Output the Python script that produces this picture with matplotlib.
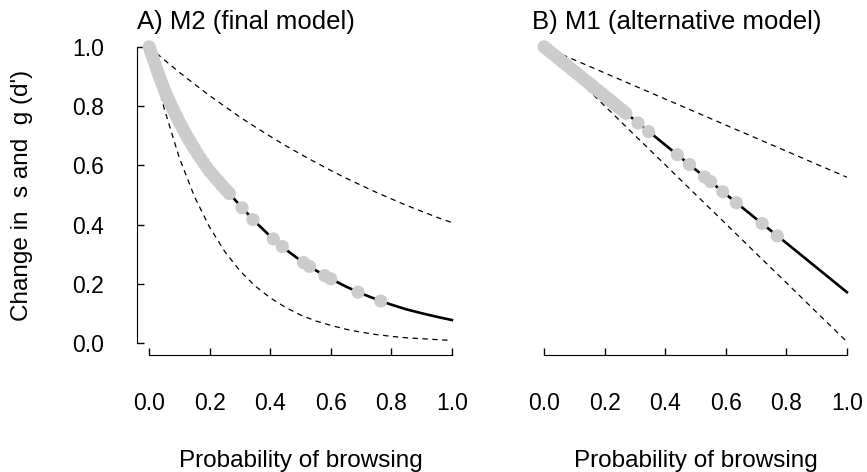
import numpy as np
import matplotlib.pyplot as plt

plt.rcParams['font.family'] = ['Liberation Sans', 'DejaVu Sans']

# M2: fitted curve and its dashed interval, on a 0.05 grid of browsing probability
grid_a = [0.00, 0.05, 0.10, 0.15, 0.20, 0.25, 0.30, 0.35, 0.40, 0.45, 0.50,
          0.55, 0.60, 0.65, 0.70, 0.75, 0.80, 0.85, 0.90, 0.95, 1.00]
fit_a = [1.000, 0.855, 0.745, 0.655, 0.580, 0.522, 0.465, 0.410, 0.361, 0.317, 0.279,
         0.246, 0.217, 0.191, 0.168, 0.148, 0.130, 0.114, 0.101, 0.089, 0.078]
upper_a = [1.000, 0.956, 0.914, 0.874, 0.835, 0.799, 0.763, 0.730, 0.698, 0.667, 0.638,
           0.610, 0.583, 0.557, 0.533, 0.509, 0.487, 0.465, 0.445, 0.425, 0.407]
lower_a = [1.000, 0.791, 0.625, 0.494, 0.391, 0.309, 0.244, 0.193, 0.153, 0.121, 0.095,
           0.075, 0.060, 0.047, 0.037, 0.029, 0.023, 0.018, 0.015, 0.012, 0.009]

# M1: straight-line fit and interval
grid_b = [0.0, 0.1, 0.2, 0.3, 0.4, 0.5, 0.6, 0.7, 0.8, 0.9, 1.0]
fit_b = [1.000, 0.917, 0.834, 0.752, 0.669, 0.586, 0.503, 0.420, 0.338, 0.255, 0.172]
upper_b = [1.000, 0.956, 0.912, 0.868, 0.824, 0.780, 0.736, 0.692, 0.648, 0.604, 0.560]
lower_b = [1.000, 0.900, 0.801, 0.701, 0.602, 0.502, 0.403, 0.303, 0.204, 0.104, 0.005]

# sites with low browsing (dense run of points)
band_x_a = [0.000, 0.005, 0.010, 0.015, 0.020, 0.025, 0.030, 0.035, 0.040, 0.045, 0.050,
            0.055, 0.060, 0.065, 0.070, 0.075, 0.080, 0.085, 0.090, 0.095, 0.100,
            0.105, 0.110, 0.115, 0.120, 0.125, 0.130, 0.135, 0.140, 0.145, 0.150,
            0.16, 0.17, 0.18, 0.19, 0.20, 0.21, 0.22, 0.23, 0.24, 0.25, 0.26, 0.265]
band_a = [1.000, 0.985, 0.970, 0.955, 0.940, 0.925, 0.911, 0.897, 0.883, 0.869, 0.855,
          0.843, 0.832, 0.820, 0.809, 0.798, 0.787, 0.776, 0.766, 0.755, 0.745,
          0.736, 0.726, 0.717, 0.707, 0.698, 0.689, 0.681, 0.672, 0.664, 0.655,
          0.639, 0.624, 0.609, 0.594, 0.580, 0.568, 0.556, 0.545, 0.533, 0.522, 0.511, 0.505]
band_x_b = [0.00, 0.01, 0.02, 0.03, 0.04, 0.05, 0.06, 0.07, 0.08, 0.09, 0.10, 0.11, 0.12, 0.13,
            0.14, 0.15, 0.16, 0.17, 0.18, 0.19, 0.20, 0.21, 0.22, 0.23, 0.24, 0.25, 0.26, 0.27]
band_b = [1.000, 0.992, 0.983, 0.975, 0.967, 0.959, 0.950, 0.942, 0.934, 0.925, 0.917, 0.909,
          0.901, 0.892, 0.884, 0.876, 0.868, 0.859, 0.851, 0.843, 0.834, 0.826, 0.818, 0.810,
          0.801, 0.793, 0.785, 0.776]

# remaining sites
obs_x_a = [0.307, 0.343, 0.41, 0.44, 0.51, 0.53, 0.58, 0.60, 0.69, 0.765]
obs_a = [0.457, 0.417, 0.352, 0.326, 0.272, 0.259, 0.228, 0.217, 0.172, 0.142]
obs_x_b = [0.31, 0.345, 0.44, 0.48, 0.53, 0.55, 0.59, 0.635, 0.72, 0.77]
obs_b = [0.743, 0.714, 0.636, 0.603, 0.561, 0.545, 0.511, 0.474, 0.404, 0.362]

ticks = [0.0, 0.2, 0.4, 0.6, 0.8, 1.0]
tick_labels = ['0.0', '0.2', '0.4', '0.6', '0.8', '1.0']

fig = plt.figure(figsize=(8.67, 4.72), dpi=100)
ax_a = fig.add_axes([137 / 867, 1 - 355 / 472, 327 / 867, 320 / 472])
ax_b = fig.add_axes([532 / 867, 1 - 355 / 472, 327 / 867, 320 / 472])

panels = [
    (ax_a, 'A) M2 (final model)', grid_a, fit_a, upper_a, lower_a,
     band_x_a, band_a, obs_x_a, obs_a),
    (ax_b, 'B) M1 (alternative model)', grid_b, fit_b, upper_b, lower_b,
     band_x_b, band_b, obs_x_b, obs_b),
]

for ax, title, gx, fit, up, lo, bx, by, ox, oy in panels:
    ax.plot(gx, fit, color='black', lw=1.9, zorder=2)
    for ci in (up, lo):
        ax.plot(gx, ci, color='black', lw=0.9, dashes=(4.3, 3.6), zorder=2)
    ax.scatter(bx, by, s=90, c='#cccccc', edgecolors='none', zorder=3)
    ax.scatter(ox, oy, s=90, c='#cccccc', edgecolors='none', zorder=3)

    ax.set_xlim(-0.04, 1.04)
    ax.set_ylim(-0.04, 1.04)
    for side in ('top', 'right'):
        ax.spines[side].set_visible(False)
    ax.spines['bottom'].set_bounds(0, 1)
    ax.spines['left'].set_bounds(0, 1)
    ax.set_xticks(ticks, tick_labels)
    ax.tick_params(axis='x', direction='in', length=5, width=1, pad=27, labelsize=16.5)
    ax.set_xlabel('Probability of browsing', fontsize=17.5, labelpad=25)
    ax.set_title(title, loc='left', fontsize=18.5, pad=4)

ax_a.set_yticks(ticks, tick_labels)
ax_a.tick_params(axis='y', direction='in', length=5, width=1, pad=24, labelsize=16.5)
ax_b.spines['left'].set_visible(False)
ax_b.set_yticks([])

fig.text(22 / 867, 1 - 195 / 472, "Change in  s and  g (d')", rotation=90,
         ha='center', va='center', fontsize=17.5)

fig.savefig('out.png', dpi=100)
